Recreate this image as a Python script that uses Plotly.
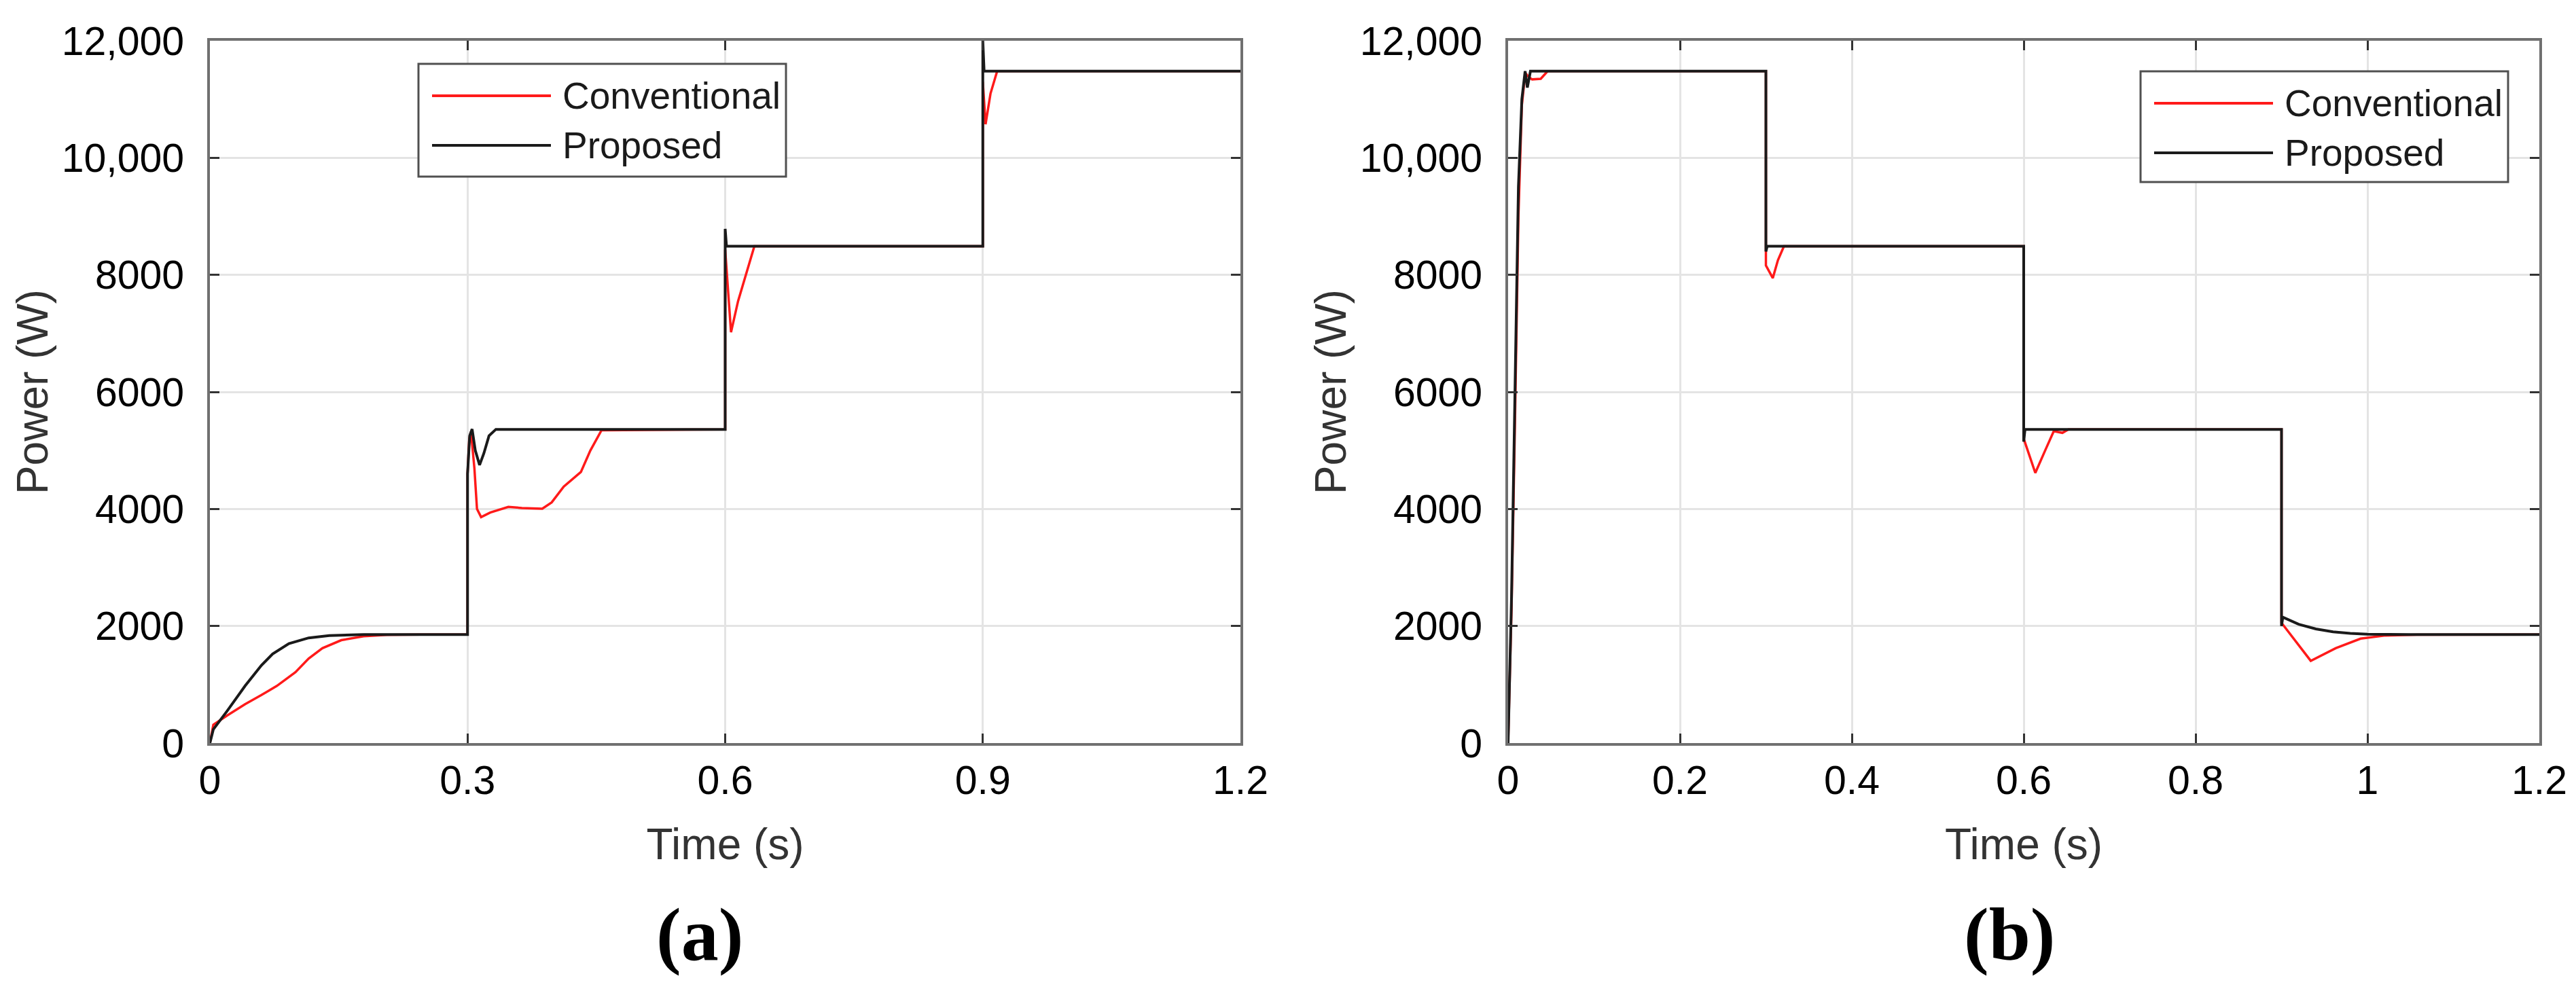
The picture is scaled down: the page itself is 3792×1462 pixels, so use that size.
import plotly.graph_objects as go

W, H = 3792, 1462

# ---------------- data: panel (a) ----------------
a_t_prop = [0, 0.004, 0.02, 0.041, 0.06, 0.073, 0.092, 0.115, 0.139, 0.179, 0.3,
            0.3, 0.3025, 0.3053, 0.309, 0.314, 0.319, 0.325, 0.333, 0.6,
            0.6, 0.6015, 0.9, 0.9, 0.9015, 1.2]
a_p_prop = [0, 234, 547, 977, 1328, 1523, 1699, 1797, 1836, 1855, 1855,
            4600, 5250, 5364, 5000, 4751, 4950, 5250, 5360, 5360,
            8786, 8490, 8490, 12000, 11480, 11480]

a_t_conv = [0, 0.004, 0.02, 0.041, 0.06, 0.078, 0.0996, 0.115, 0.131, 0.153, 0.179,
            0.206, 0.246, 0.3, 0.3, 0.302, 0.304, 0.308, 0.311, 0.3158, 0.3264,
            0.3475, 0.3633, 0.387, 0.398, 0.412, 0.432, 0.443, 0.456, 0.6,
            0.6, 0.6068, 0.615, 0.625, 0.634, 0.9, 0.9, 0.9032, 0.909, 0.9167, 1.2]
a_p_conv = [0, 312, 469, 664, 820, 977, 1211, 1445, 1621, 1758, 1824,
            1848, 1855, 1855, 4600, 5200, 5320, 4694, 4000, 3861, 3938,
            4035, 4016, 4004, 4112, 4381, 4632, 4998, 5345, 5360,
            8430, 7020, 7550, 8050, 8490, 8490, 11300, 10574, 11100, 11480, 11480]

# ---------------- data: panel (b) ----------------
b_t_prop = [0, 0.004, 0.008, 0.012, 0.016, 0.0198, 0.0224, 0.026, 0.3,
            0.3, 0.3015, 0.6, 0.6, 0.6015, 0.9, 0.9, 0.9015, 0.92, 0.94,
            0.96, 0.98, 1.0, 1.05, 1.2]
b_p_prop = [0, 2500, 6000, 9500, 11000, 11480, 11200, 11480, 11480,
            8400, 8490, 8490, 5150, 5360, 5360, 2000, 2150, 2030, 1950,
            1900, 1875, 1860, 1855, 1855]

b_t_conv = [0, 0.004, 0.008, 0.012, 0.016, 0.02, 0.024, 0.028, 0.038, 0.046, 0.3,
            0.3, 0.308, 0.314, 0.321, 0.6, 0.6, 0.6135, 0.625, 0.635, 0.645,
            0.652, 0.9, 0.9, 0.934, 0.963, 0.992, 1.021, 1.06, 1.2]
b_p_conv = [0, 2300, 5500, 9000, 10900, 11450, 11380, 11340, 11350, 11480, 11480,
            8162, 7945, 8250, 8490, 8490, 5200, 4616, 5000, 5330, 5300,
            5360, 5360, 2054, 1405, 1621, 1784, 1838, 1852, 1855]

series_names = ["Conventional", "Proposed"]
series_colors = ["#ff1a1a", "#1a1a1a"]

x_ticks_a = [0, 0.3, 0.6, 0.9, 1.2]
x_labels_a = ["0", "0.3", "0.6", "0.9", "1.2"]
x_ticks_b = [0, 0.2, 0.4, 0.6, 0.8, 1.0, 1.2]
x_labels_b = ["0", "0.2", "0.4", "0.6", "0.8", "1", "1.2"]
y_ticks = [0, 2000, 4000, 6000, 8000, 10000, 12000]
y_labels = ["0", "2000", "4000", "6000", "8000", "10,000", "12,000"]
panel_labels = ["(a)", "(b)"]

x_title = "Time (s)"
y_title = "Power (W)"

# ---------------- figure ----------------
SANS = "Liberation Sans, Arial, Helvetica, sans-serif"
SERIF = "Liberation Serif, Times New Roman, serif"


def px_x(p):
    return p / W


def px_y(p):
    return 1 - p / H


fig = go.Figure()
panels = [
    ("x", "y", a_t_conv, a_p_conv, a_t_prop, a_p_prop),
    ("x2", "y2", b_t_conv, b_p_conv, b_t_prop, b_p_prop),
]
for xa, ya, tc, pc, tp, pp in panels:
    fig.add_trace(go.Scatter(x=tc, y=pc, mode="lines", name=series_names[0],
                             line=dict(color=series_colors[0], width=3.5),
                             xaxis=xa, yaxis=ya, showlegend=False))
    fig.add_trace(go.Scatter(x=tp, y=pp, mode="lines", name=series_names[1],
                             line=dict(color=series_colors[1], width=4),
                             xaxis=xa, yaxis=ya, showlegend=False))

common = dict(
    showline=True, linecolor="#707070", linewidth=4, mirror="ticks",
    ticks="inside", ticklen=14, tickwidth=3, tickcolor="#333333",
    showgrid=True, gridcolor="#e4e4e4", gridwidth=3, zeroline=False,
    tickfont=dict(family=SANS, size=59, color="#000000"),
    automargin=False,
)
xcommon = dict(common, range=[0, 1.2], ticklabelstandoff=0,
               title=dict(text=x_title, font=dict(family=SANS, size=64, color="#333333"), standoff=40))
ycommon = dict(common, range=[0, 12000], ticklabelstandoff=22,
               tickmode="array", tickvals=y_ticks, ticktext=y_labels,
               title=dict(text=y_title, font=dict(family=SANS, size=64, color="#333333"), standoff=0))

xdom_a = [px_x(301), px_x(1818)]
xdom_b = [px_x(2212), px_x(3730)]
ydom = [px_y(1086), px_y(52)]

fig.update_layout(
    width=W, height=H,
    margin=dict(l=0, r=0, t=0, b=0),
    paper_bgcolor="white", plot_bgcolor="white",
    showlegend=False,
    xaxis=dict(xcommon, domain=xdom_a, anchor="y", tickmode="array",
               tickvals=x_ticks_a, ticktext=x_labels_a),
    yaxis=dict(ycommon, domain=ydom, anchor="x"),
    xaxis2=dict(xcommon, domain=xdom_b, anchor="y2", tickmode="array",
                tickvals=x_ticks_b, ticktext=x_labels_b),
    yaxis2=dict(ycommon, domain=ydom, anchor="x2"),
)

# panel labels
for lbl, cx in zip(panel_labels, [1022, 2950]):
    fig.add_annotation(x=px_x(cx), y=px_y(1368), xref="paper", yref="paper",
                       text="<b>" + lbl + "</b>", showarrow=False,
                       xanchor="center", yanchor="middle",
                       font=dict(family=SERIF, size=110, color="#000000"))

# legends (MATLAB style boxes with long line samples)
legend_boxes = [
    (608, 1149, 86, 252),
    (3143, 3684, 97, 260),
]
for x0, x1, y0, y1 in legend_boxes:
    fig.add_shape(type="rect", xref="paper", yref="paper",
                  x0=px_x(x0), x1=px_x(x1), y0=px_y(y1), y1=px_y(y0),
                  line=dict(color="#505050", width=3), fillcolor="white", layer="above")
    rows = [y0 + 47, y0 + 120]
    for name, color, ry in zip(series_names, series_colors, rows):
        fig.add_shape(type="line", xref="paper", yref="paper",
                      x0=px_x(x0 + 20), x1=px_x(x0 + 195), y0=px_y(ry), y1=px_y(ry),
                      line=dict(color=color, width=4), layer="above")
        fig.add_annotation(x=px_x(x0 + 210), y=px_y(ry), xref="paper", yref="paper",
                           text=name, showarrow=False, xanchor="left", yanchor="middle",
                           font=dict(family=SANS, size=55, color="#1a1a1a"))

fig.write_html("out.html")
